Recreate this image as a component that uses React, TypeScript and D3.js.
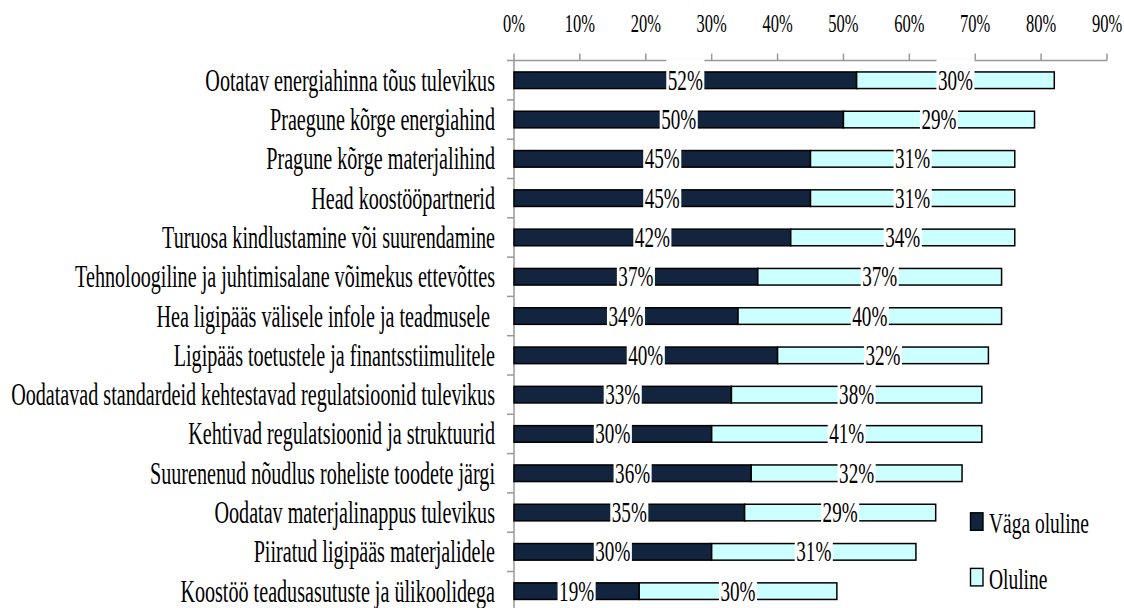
import React from 'react';
import * as d3 from 'd3';

const categories = [
    'Ootatav energiahinna tõus tulevikus',
    'Praegune kõrge energiahind',
    'Pragune kõrge materjalihind',
    'Head koostööpartnerid',
    'Turuosa kindlustamine või suurendamine',
    'Tehnoloogiline ja juhtimisalane võimekus ettevõttes',
    'Hea ligipääs välisele infole ja teadmusele ',
    'Ligipääs toetustele ja finantsstiimulitele',
    'Oodatavad standardeid kehtestavad regulatsioonid tulevikus',
    'Kehtivad regulatsioonid ja struktuurid',
    'Suurenenud nõudlus roheliste toodete järgi',
    'Oodatav materjalinappus tulevikus',
    'Piiratud ligipääs materjalidele',
    'Koostöö teadusasutuste ja ülikoolidega',
];

const vagaOluline = [52, 50, 45, 45, 42, 37, 34, 40, 33, 30, 36, 35, 30, 19];
const oluline = [30, 29, 31, 31, 34, 37, 40, 32, 38, 41, 32, 29, 31, 30];

const ticks = [0, 10, 20, 30, 40, 50, 60, 70, 80, 90];
const seriesNames = ['Väga oluline', 'Oluline'];
const colors = ['#13243f', '#ccffff'];

const SX = 0.66; // the original type is squeezed horizontally
const FONT = '"Liberation Serif", "Times New Roman", serif';

function Txt({ x, y, size, anchor = 'start', children }) {
    return (
        <text
            transform={`translate(${x},${y}) scale(${SX},1)`}
            style={{ fontFamily: FONT, whiteSpace: 'pre' }}
            xmlSpace="preserve"
            fontSize={size}
            textAnchor={anchor}
            fill="#000"
        >
            {children}
        </text>
    );
}

export default function App() {
    const width = 1124;
    const height = 608;

    const x = d3.scaleLinear().domain([0, 90]).range([514, 1107]);
    const y = d3
        .scaleBand()
        .domain(categories)
        .range([60.6, 60.6 + 39.3 * categories.length])
        .padding(0);

    const barH = 16.6;
    const labelSize = 29;
    const boxW = labelSize * 1.833 * SX + 3;

    const stacked = d3.stack().keys(['a', 'b'])(
        categories.map((c, i) => ({ cat: c, a: vagaOluline[i], b: oluline[i] }))
    );

    const axisTop = y.range()[0];

    return (
        <svg
            width={width}
            height={height}
            style={{ position: 'absolute', left: 0, top: 0, background: '#fff' }}
        >
            {/* top axis */}
            <line x1={507} x2={x(90)} y1={axisTop} y2={axisTop} stroke="#999" strokeWidth={1.5} />
            {ticks.map(t => (
                <g key={t}>
                    <line x1={x(t)} x2={x(t)} y1={axisTop - 7} y2={axisTop} stroke="#999" strokeWidth={1.5} />
                    <Txt x={x(t)} y={31.5} size={25} anchor="middle">{t}%</Txt>
                </g>
            ))}

            {/* category axis */}
            <line x1={x(0)} x2={x(0)} y1={axisTop} y2={height} stroke="#999" strokeWidth={1.5} />
            {categories.map(c => (
                <line
                    key={c}
                    x1={507}
                    x2={x(0)}
                    y1={y(c) + y.step()}
                    y2={y(c) + y.step()}
                    stroke="#999"
                    strokeWidth={1.5}
                />
            ))}
            {categories.map(c => (
                <Txt key={c} x={495} y={y(c) + y.bandwidth() / 2 + 10.5} size={30.5} anchor="end">
                    {c}
                </Txt>
            ))}

            {/* bars */}
            {stacked.map((s, si) =>
                s.map(d => (
                    <rect
                        key={si + d.data.cat}
                        x={x(d[0])}
                        y={y(d.data.cat) + y.bandwidth() / 2 - barH / 2}
                        width={x(d[1]) - x(d[0])}
                        height={barH}
                        fill={colors[si]}
                        stroke="#000"
                        strokeWidth={1.5}
                    />
                ))
            )}

            {/* value labels */}
            {stacked.map((s, si) =>
                s.map(d => {
                    const cx = (x(d[0]) + x(d[1])) / 2;
                    const cy = y(d.data.cat) + y.bandwidth() / 2;
                    return (
                        <g key={'l' + si + d.data.cat}>
                            <rect x={cx - boxW / 2} y={cy - 21} width={boxW} height={40} fill="#fff" />
                            <Txt x={cx} y={cy + 9.5} size={labelSize} anchor="middle">
                                {d[1] - d[0]}%
                            </Txt>
                        </g>
                    );
                })
            )}

            {/* legend */}
            {seriesNames.map((n, i) => (
                <g key={n}>
                    <rect
                        x={970.5}
                        y={512.8 + i * 55.6}
                        width={12.5}
                        height={17.5}
                        fill={colors[i]}
                        stroke="#000"
                        strokeWidth={1.4}
                    />
                    <Txt x={989} y={533.3 + i * 55.6} size={29.5}>{n}</Txt>
                </g>
            ))}
        </svg>
    );
}
